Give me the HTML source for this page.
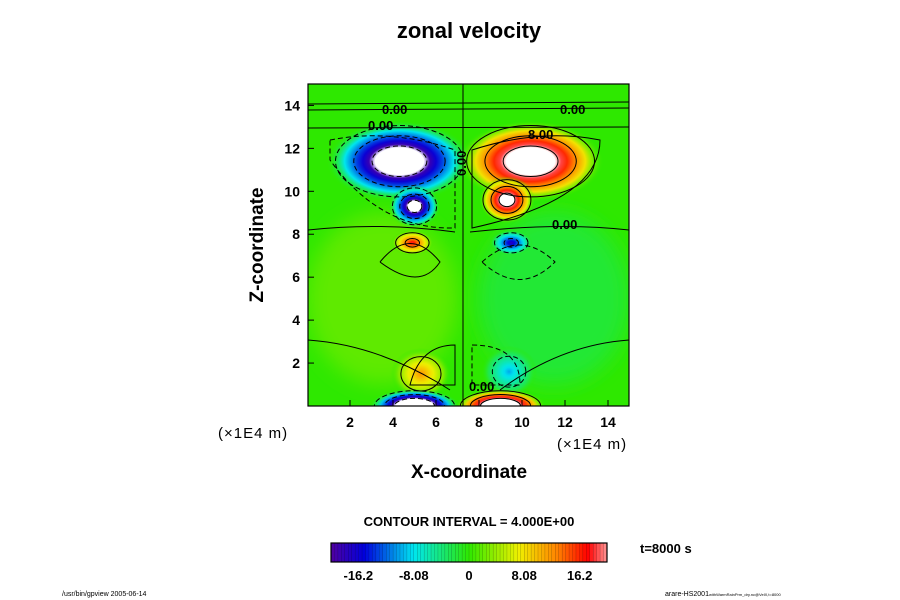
<!DOCTYPE html>
<html><head><meta charset="utf-8"><style>
body{margin:0;background:#fff;}
svg{display:block;font-family:"Liberation Sans",sans-serif;}
</style></head><body>
<svg id="chart" width="900" height="600" viewBox="0 0 900 600" xmlns="http://www.w3.org/2000/svg">
<defs id="defs">
<filter id="blur8" x="-50%" y="-50%" width="200%" height="200%"><feGaussianBlur stdDeviation="10"/></filter>
<clipPath id="plotclip"><rect x="308" y="84" width="321" height="322"/></clipPath>
</defs>
<text x="469" y="38" text-anchor="middle" font-size="22" font-weight="bold">zonal velocity</text>
<g id="plot" clip-path="url(#plotclip)">
<rect x="308" y="84" width="321" height="322" fill="#2ee800"/>
<g id="blobs"></g>
<g id="lines" fill="none" stroke="#000" stroke-width="1"></g>
<g font-size="13" font-weight="bold" fill="#000">
<text x="382" y="114">0.00</text>
<text x="560" y="114">0.00</text>
<text x="368" y="130">0.00</text>
<text x="528" y="139">8.00</text>
<text x="552" y="229">0.00</text>
<text x="469" y="391">0.00</text>
<text transform="translate(466,176) rotate(-90)">0.00</text>
</g>
</g>
<rect x="308" y="84" width="321" height="322" fill="none" stroke="#000" stroke-width="1.2"/>
<g id="ticks" stroke="#000" stroke-width="1"></g>
<g id="ticklabels" font-size="14" font-weight="bold"></g>
<text x="218" y="438" font-size="15" letter-spacing="1">(×1E4 m)</text>
<text x="557" y="449" font-size="15" letter-spacing="1">(×1E4 m)</text>
<text x="469" y="478" text-anchor="middle" font-size="19" font-weight="bold">X-coordinate</text>
<text transform="translate(263,245) rotate(-90)" text-anchor="middle" font-size="19" font-weight="bold">Z-coordinate</text>
<text x="469" y="526" text-anchor="middle" font-size="13" font-weight="bold">CONTOUR INTERVAL = 4.000E+00</text>
<g id="colorbar"></g>
<rect x="331" y="543" width="276" height="19" fill="none" stroke="#000" stroke-width="1.2"/>
<g id="cblabels" font-size="13" font-weight="bold"></g>
<text x="640" y="553" font-size="13" font-weight="bold">t=8000 s</text>
<text x="62" y="596" font-size="7">/usr/bin/gpview 2005-06-14</text>
<text x="665" y="596" font-size="7">arare-HS2001<tspan font-size="4">withWarmRainPrm_dry.nc@VelX,t=8000</tspan></text>
</svg>
<script>
var NS="http://www.w3.org/2000/svg";
var xTicks=[2,4,6,8,10,12,14];
var zTicks=[2,4,6,8,10,12,14];
var cbTickValues=[-16.2,-8.08,0,8.08,16.2];
var cbTickLabels=["-16.2","-8.08","0","8.08","16.2"];
// broad background tint regions
var bgX=[3.5,11.5];
var bgZ=[5.0,5.0];
var bgRX=[3.5,3.5];
var bgRZ=[4.0,4.0];
var bgV=[1.8,-1.8];
// velocity blobs: x centers, z centers, x radius, z radius, peak value
var blobX=[4.3,10.4,5.0,9.3,4.9,9.5,5.3,9.4,5.0,9.0];
var blobZ=[11.4,11.4,9.3,9.6,7.6,7.6,1.5,1.6,0.0,0.0];
var blobRX=[3.4,3.4,1.2,1.3,1.0,1.0,1.4,1.3,2.1,2.1];
var blobRZ=[1.9,1.9,1.0,1.1,0.6,0.6,1.2,1.2,0.8,0.8];
var blobV=[-32,32,-28,28,18,-18,12,-10,-36,36];
var cMin=-20.2,cMax=20.2;
function sx(v){return 307+v*21.5;}
function sz(v){return 406-v*21.47;}
function cmap(v){
  if(Math.abs(v)>cMax) return "#ffffff";
  var t=(v-cMin)/(cMax-cMin);
  var stops=[[0,[80,0,160]],[0.12,[0,0,220]],[0.3,[0,230,240]],[0.5,[46,232,0]],[0.68,[240,240,0]],[0.82,[255,130,0]],[0.93,[255,0,0]],[1,[255,150,150]]];
  for(var i=1;i<stops.length;i++){if(t<=stops[i][0]){var a=stops[i-1],b=stops[i],f=(t-a[0])/(b[0]-a[0]);
    return "rgb("+[0,1,2].map(function(k){return Math.round(a[1][k]+f*(b[1][k]-a[1][k]));}).join(",")+")";}}
  return "rgb(255,150,150)";
}
var defs=document.getElementById("defs");
var bg=document.getElementById("blobs");
for(var i=0;i<bgX.length;i++){
  var e=document.createElementNS(NS,"ellipse");
  
  
  e.setAttribute("cx",sx(bgX[i]));e.setAttribute("cy",sz(bgZ[i]));
  e.setAttribute("rx",bgRX[i]*21.5);e.setAttribute("ry",bgRZ[i]*21.47);
  e.setAttribute("fill",cmap(bgV[i]));e.setAttribute("filter","url(#blur8)");
  bg.appendChild(e);
}
var lg=document.getElementById("lines");
for(var i=0;i<blobX.length;i++){
  var g=document.createElementNS(NS,"radialGradient");
  g.setAttribute("id","g"+i);
  var n=12;
  for(var k=0;k<=n;k++){
    var o=k/n, v=blobV[i]*(1-o);
    var s=document.createElementNS(NS,"stop");
    s.setAttribute("offset",o);s.setAttribute("stop-color",cmap(v));
    s.setAttribute("stop-opacity",o>0.75?(1-o)/0.25:1);
    g.appendChild(s);
  }
  defs.appendChild(g);
  var e=document.createElementNS(NS,"ellipse");
  
  
  e.setAttribute("cx",sx(blobX[i]));e.setAttribute("cy",sz(blobZ[i]));
  e.setAttribute("rx",blobRX[i]*21.5);e.setAttribute("ry",blobRZ[i]*21.47);
  e.setAttribute("fill","url(#g"+i+")");
  bg.appendChild(e);
  for(var lev=4;lev<Math.abs(blobV[i]) && lev<=20;lev+=8){
    var o=1-lev/Math.abs(blobV[i]);
    var c=document.createElementNS(NS,"ellipse");
    
    
    c.setAttribute("cx",sx(blobX[i]));c.setAttribute("cy",sz(blobZ[i]));
    c.setAttribute("rx",blobRX[i]*21.5*o);c.setAttribute("ry",blobRZ[i]*21.47*o);
    if(blobV[i]<0)c.setAttribute("stroke-dasharray","5,3");
    lg.appendChild(c);
  }
}
function line(d,dash,name){var p=document.createElementNS(NS,"path");p.setAttribute("d",d);if(dash)p.setAttribute("stroke-dasharray","5,3");
 
 
 lg.appendChild(p);}
line("M308,104 L629,102",false,"zero-contour");
line("M308,110 L629,108",false,"zero-contour");
line("M308,128 L629,127",false,"zero-contour");
line("M463,84 L463,406",false,"zero-contour");
line("M308,230 Q380,222 455,232",false,"zero-contour");
line("M470,232 Q560,222 629,230",false,"zero-contour");
line("M308,340 Q380,345 450,390",false,"zero-contour");
line("M500,390 Q560,345 629,340",false,"zero-contour");
line("M330,140 Q390,128 455,150 L455,228 Q380,230 330,160 Z",true,"negative-contour");
line("M472,150 Q540,128 600,140 Q600,200 472,228 Z",false,"positive-contour");
line("M380,262 Q410,225 440,262 Q420,292 380,262",false,"positive-contour");
line("M482,262 Q520,228 555,262 Q520,297 482,262",true,"negative-contour");
line("M410,385 Q420,345 455,345 L455,385 Z",false,"positive-contour");
line("M472,345 Q520,345 520,385 L472,385 Z",true,"negative-contour");
var tg=document.getElementById("ticks"),tl=document.getElementById("ticklabels");
for(var i=0;i<xTicks.length;i++){
  var x=sx(xTicks[i]);
  var l=document.createElementNS(NS,"line");
  
  
  l.setAttribute("x1",x);l.setAttribute("x2",x);l.setAttribute("y1",406);l.setAttribute("y2",400);tg.appendChild(l);
  var t=document.createElementNS(NS,"text");
  
  
  t.setAttribute("x",x);t.setAttribute("y",427);t.setAttribute("text-anchor","middle");t.textContent=xTicks[i];tl.appendChild(t);
}
for(var i=0;i<zTicks.length;i++){
  var y=sz(zTicks[i]);
  var l=document.createElementNS(NS,"line");
  
  
  l.setAttribute("x1",308);l.setAttribute("x2",314);l.setAttribute("y1",y);l.setAttribute("y2",y);tg.appendChild(l);
  var t=document.createElementNS(NS,"text");
  
  
  t.setAttribute("x",300);t.setAttribute("y",y+5);t.setAttribute("text-anchor","end");t.textContent=zTicks[i];tl.appendChild(t);
}
var cb=document.getElementById("colorbar");
var nSeg=80;
for(var i=0;i<nSeg;i++){
  var r=document.createElementNS(NS,"rect");
  
  
  var v=cMin+(i+0.5)/nSeg*(cMax-cMin);
  r.setAttribute("x",331+i*276/nSeg);r.setAttribute("y",543);r.setAttribute("width",276/nSeg+0.3);r.setAttribute("height",19);
  r.setAttribute("fill",cmap(v));r.setAttribute("stroke","rgba(0,0,0,0.35)");r.setAttribute("stroke-width","0.4");cb.appendChild(r);
}
var cl=document.getElementById("cblabels");
for(var i=0;i<cbTickValues.length;i++){
  var t=document.createElementNS(NS,"text");
  
  
  t.setAttribute("x",331+(cbTickValues[i]-cMin)/(cMax-cMin)*276);t.setAttribute("y",580);t.setAttribute("text-anchor","middle");
  t.textContent=cbTickLabels[i];cl.appendChild(t);
}
</script>
</body></html>
